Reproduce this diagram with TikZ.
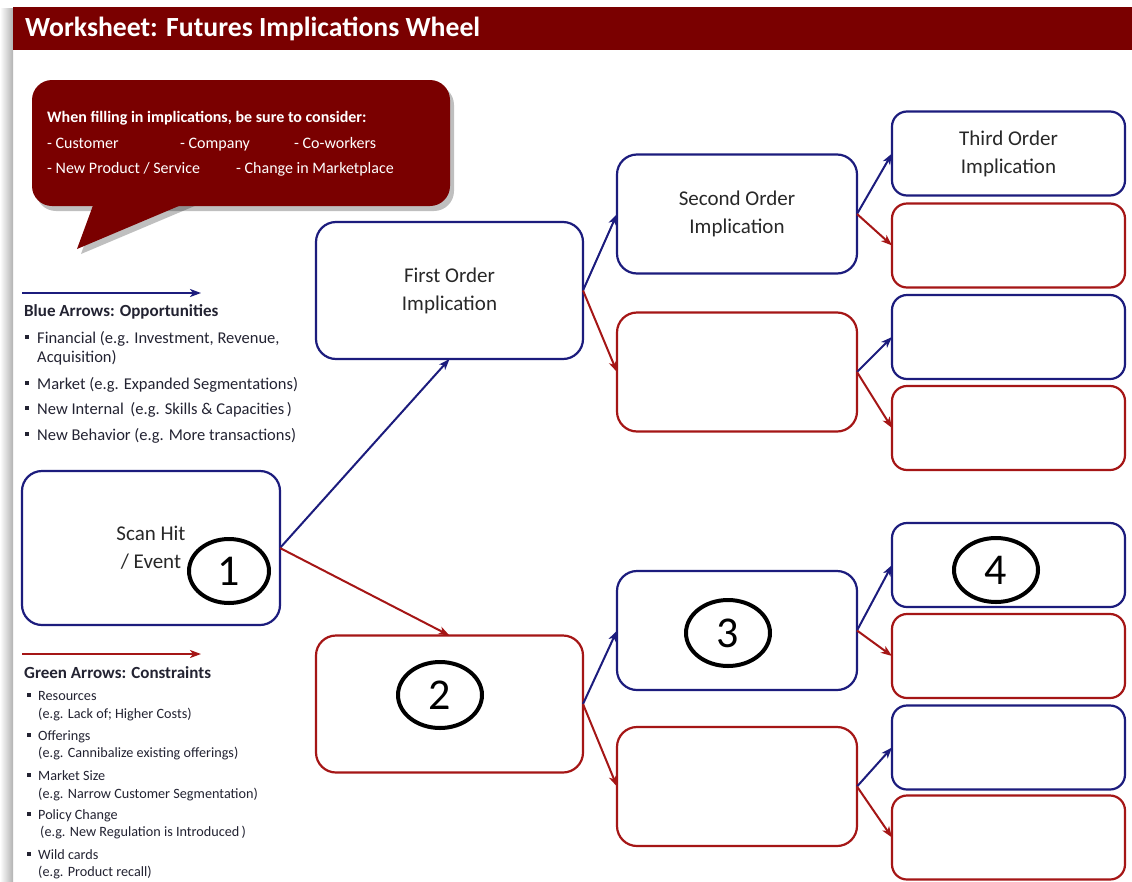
\documentclass[tikz,border=0pt]{standalone}
\usepackage{fontspec}
\setmainfont{Carlito}
\usetikzlibrary{arrows.meta,shapes.geometric}
\definecolor{wine}{RGB}{122,0,0}
\definecolor{navy}{RGB}{28,28,125}
\definecolor{crimson}{RGB}{165,22,22}
\definecolor{ink}{RGB}{40,40,40}
\definecolor{legendink}{RGB}{35,35,50}
\tikzset{
  box/.style={draw, rounded corners=20pt, line width=2.2pt, inner sep=0pt, outer sep=0pt,
    align=center, font=\fontsize{21}{28}\selectfont, text=ink},
  bluebox/.style={box, draw=navy},
  redbox/.style={box, draw=crimson},
  smallbox/.style={rounded corners=15pt, minimum width=233pt, minimum height=84pt},
  midbox/.style={minimum width=240pt, minimum height=119pt},
  bigbox/.style={minimum width=267pt, minimum height=137pt},
  tip/.style={-{Stealth[length=11pt,width=8pt,inset=3pt]}},
  barrow/.style={navy, line width=2pt, tip},
  rarrow/.style={crimson, line width=2pt, tip},
  num/.style={ellipse, draw=black, line width=4pt, minimum width=80pt, minimum height=64pt,
    inner sep=0pt, text=black, font=\fontsize{44}{44}\selectfont},
  calltext/.style={anchor=base west, inner sep=0pt, text=white, font=\fontsize{16}{18}\selectfont},
  legtitle/.style={anchor=base west, inner sep=0pt, text=legendink, font=\fontsize{17}{19}\selectfont\bfseries},
  legblue/.style={anchor=base west, inner sep=0pt, text=legendink, font=\fontsize{16.5}{18}\selectfont},
  leggreen/.style={anchor=base west, inner sep=0pt, text=legendink, font=\fontsize{14.2}{16}\selectfont},
  bullet/.style={fill=legendink, minimum size=3.5pt, inner sep=0pt, outer sep=0pt},
}
\begin{document}
\begin{tikzpicture}[x=1pt,y=-1pt]
\useasboundingbox (0,0) rectangle (1132,881);
\fill[white] (0,0) rectangle (1132,881);
% page shadow on the left
\shade[left color=white, right color=black!30] (0,8) rectangle (13,881);
% title bar
\fill[wine] (13,7) rectangle (1132,50);
\node[anchor=west, inner sep=0pt, text=white, font=\fontsize{27.7}{30}\selectfont\bfseries] (title) at (25,29) {Worksheet: Futures Implications Wheel};

% callout
\begin{scope}[shift={(4,5)}]
  \fill[black, opacity=0.25, rounded corners=20pt] (32,80) rectangle (450,206);
  \fill[black, opacity=0.25] (95,200) -- (193,200) -- (77,249) -- cycle;
\end{scope}
\fill[wine, rounded corners=20pt] (32,80) rectangle (450,206);
\fill[wine] (95,200) -- (193,200) -- (77,249) -- cycle;
\node[calltext, font=\fontsize{16}{18}\selectfont\bfseries] (c0) at (47,122) {When filling in implications, be sure to consider:};
\node[calltext] (c1) at (47,148) {- Customer};
\node[calltext] (c2) at (180,148) {- Company};
\node[calltext] (c3) at (294,148) {- Co-workers};
\node[calltext] (c4) at (47,173) {- New Product / Service};
\node[calltext] (c5) at (236,173) {- Change in Marketplace};

% legend: blue
\coordinate (lb1) at (22,293);
\coordinate (lb2) at (201,293);
\draw[barrow] (lb1) -- (lb2);
\node[legtitle] (bt) at (24,316) {Blue Arrows: Opportunities};
\node[bullet] (bb1) at (27,337) {};
\node[legblue] (bl1) at (37,343) {Financial (e.g. Investment, Revenue,};
\node[legblue] (bl1b) at (37,362) {Acquisition)};
\node[bullet] (bb2) at (27,383) {};
\node[legblue] (bl2) at (37,389) {Market (e.g. Expanded Segmentations)};
\node[bullet] (bb3) at (27,408) {};
\node[legblue] (bl3) at (37,414) {New Internal\, (e.g. Skills \& Capacities\,)};
\node[bullet] (bb4) at (27,434) {};
\node[legblue] (bl4) at (37,440) {New Behavior (e.g. More transactions)};

% legend: red
\coordinate (lr1) at (22,654);
\coordinate (lr2) at (201,654);
\draw[rarrow] (lr1) -- (lr2);
\node[legtitle] (gt) at (24,678) {Green Arrows: Constraints};
\node[bullet] (gb1) at (29,695) {};
\node[leggreen] (gl1) at (38,700) {Resources};
\node[leggreen] (gl1b) at (38,718) {(e.g. Lack of; Higher Costs)};
\node[bullet] (gb2) at (29,735) {};
\node[leggreen] (gl2) at (38,740) {Offerings};
\node[leggreen] (gl2b) at (38,757) {(e.g. Cannibalize existing offerings)};
\node[bullet] (gb3) at (29,775) {};
\node[leggreen] (gl3) at (38,780) {Market Size};
\node[leggreen] (gl3b) at (38,798) {(e.g. Narrow Customer Segmentation)};
\node[bullet] (gb4) at (29,814) {};
\node[leggreen] (gl4) at (38,819) {Policy Change};
\node[leggreen] (gl4b) at (40,836) {(e.g. New Regulation is Introduced\,)};
\node[bullet] (gb5) at (29,854) {};
\node[leggreen] (gl5) at (38,859) {Wild cards};
\node[leggreen] (gl5b) at (38,876) {(e.g. Product recall)};

% main boxes
\node[bluebox, minimum width=258pt, minimum height=154pt] (scan) at (151,548) {Scan Hit\\/ Event};
\node[bluebox, bigbox] (first) at (449.5,290.5) {First Order\\Implication};
\node[redbox, bigbox] (two) at (449.5,704) {};
\node[bluebox, midbox] (second) at (737,214) {Second Order\\Implication};
\node[redbox, midbox] (sred) at (737,372) {};
\node[bluebox, midbox] (three) at (737,630.5) {};
\node[redbox, midbox] (tred) at (737,786.5) {};
\node[bluebox, smallbox] (t1) at (1008.5,153.5) {Third Order\\Implication};
\node[redbox, smallbox] (t2) at (1008.5,245.5) {};
\node[bluebox, smallbox] (t3) at (1008.5,337) {};
\node[redbox, smallbox] (t4) at (1008.5,428) {};
\node[bluebox, smallbox] (t5) at (1008.5,565) {};
\node[redbox, smallbox] (t6) at (1008.5,656) {};
\node[bluebox, smallbox] (t7) at (1008.5,747.5) {};
\node[redbox, smallbox] (t8) at (1008.5,837.5) {};

% arrows
\draw[barrow] (scan.east) -- (first.south);
\draw[rarrow] (scan.east) -- (two.north);
\draw[barrow] (first.east) -- (second.west);
\draw[rarrow] (first.east) -- (sred.west);
\draw[barrow] (two.east) -- (three.west);
\draw[rarrow] (two.east) -- (tred.west);
\draw[barrow] (second.east) -- (t1.west);
\draw[rarrow] (second.east) -- (t2.west);
\draw[barrow] (sred.east) -- (t3.west);
\draw[rarrow] (sred.east) -- (t4.west);
\draw[barrow] (three.east) -- (t5.west);
\draw[rarrow] (three.east) -- (t6.west);
\draw[barrow] (tred.east) -- (t7.west);
\draw[rarrow] (tred.east) -- (t8.west);

% numbers
\node[num] (n1) at (229,571) {1};
\node[num, minimum width=84pt, minimum height=66pt] (n2) at (440,695) {2};
\node[num, minimum width=84pt, minimum height=66pt] (n3) at (728,633) {3};
\node[num, minimum width=84pt, minimum height=64pt] (n4) at (996,570) {4};
\end{tikzpicture}
\end{document}
